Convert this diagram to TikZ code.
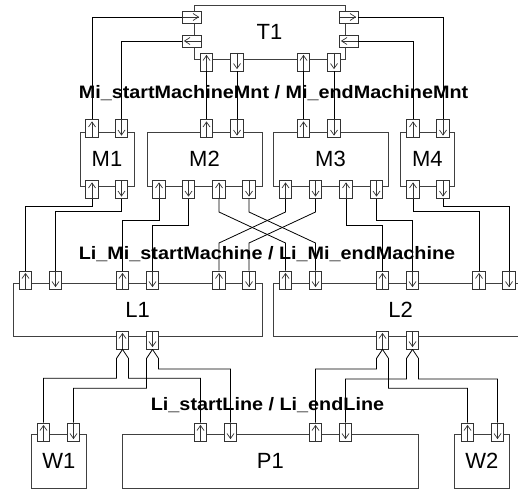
\documentclass[tikz,border=0pt]{standalone}
\usepackage{fontspec}
\setmainfont{Liberation Sans}
\newfontfamily\lblfont[FakeStretch=1.1]{Liberation Sans}
\newcommand\wireroute[3]{\draw[wire] (#1.south) |- (#2.north |- 0,#3) -- (#2.north);}
\begin{document}
\begin{tikzpicture}[x=1pt,y=-1pt,
  box/.style={draw=black!75, line width=0.9pt, rectangle, inner sep=0pt,
    font=\fontsize{22}{24}\selectfont},
  wire/.style={draw=black, line width=0.8pt},
  lbl/.style={font=\lblfont\bfseries\fontsize{18}{20}\selectfont, inner sep=0pt, anchor=base},
  port/.style={draw=black!80, fill=white, line width=0.8pt, rectangle, inner sep=0pt},
  pv/.style={port, minimum width=12.5pt, minimum height=18pt},
  ph/.style={port, minimum width=19pt, minimum height=12pt},
  pU/.style={pv, path picture={
    \draw[line width=0.7pt] (path picture bounding box.south) -- ([yshift=-2.5pt]path picture bounding box.north);
    \draw[line width=0.7pt] ([xshift=-3.5pt,yshift=-7.5pt]path picture bounding box.north) -- ([yshift=-2.5pt]path picture bounding box.north) -- ([xshift=3.5pt,yshift=-7.5pt]path picture bounding box.north);}},
  pD/.style={pv, path picture={
    \draw[line width=0.7pt] (path picture bounding box.north) -- ([yshift=2.5pt]path picture bounding box.south);
    \draw[line width=0.7pt] ([xshift=-3.5pt,yshift=7.5pt]path picture bounding box.south) -- ([yshift=2.5pt]path picture bounding box.south) -- ([xshift=3.5pt,yshift=7.5pt]path picture bounding box.south);}},
  pR/.style={ph, path picture={
    \draw[line width=0.7pt] (path picture bounding box.west) -- ([xshift=-2.5pt]path picture bounding box.east);
    \draw[line width=0.7pt] ([xshift=-8pt,yshift=3.5pt]path picture bounding box.east) -- ([xshift=-2.5pt]path picture bounding box.east) -- ([xshift=-8pt,yshift=-3.5pt]path picture bounding box.east);}},
  pL/.style={ph, path picture={
    \draw[line width=0.7pt] (path picture bounding box.east) -- ([xshift=2.5pt]path picture bounding box.west);
    \draw[line width=0.7pt] ([xshift=8pt,yshift=3.5pt]path picture bounding box.west) -- ([xshift=2.5pt]path picture bounding box.west) -- ([xshift=8pt,yshift=-3.5pt]path picture bounding box.west);}}
]
\useasboundingbox (0,0) rectangle (518,492);
\clip (0,0) rectangle (518,492);
\fill[white] (0,0) rectangle (518,492);

% boxes
\node[box, minimum width=151pt, minimum height=54pt] (T1) at (269.5,32) {T1};
\node[box, minimum width=54pt, minimum height=54pt] (M1) at (107,159) {M1};
\node[box, minimum width=115pt, minimum height=54pt] (M2) at (204.5,159) {M2};
\node[box, minimum width=115pt, minimum height=54pt] (M3) at (330.5,159) {M3};
\node[box, minimum width=53.3pt, minimum height=54pt] (M4) at (427.3,159) {M4};
\node[box, minimum width=248.7pt, minimum height=53.4pt] (L1) at (137.7,310) {L1};
\node[box, minimum width=254.7pt, minimum height=53.4pt] (L2) at (400.7,310) {L2};
\node[box, minimum width=54.3pt, minimum height=54pt] (W1) at (58.9,461.3) {W1};
\node[box, minimum width=296pt, minimum height=54pt] (P1) at (270.3,461.3) {P1};
\node[box, minimum width=55pt, minimum height=54pt] (W2) at (481.8,461.3) {W2};

% T1 ports
\node[pR] (t1lo) at (191.5,17) {};
\node[pL] (t1li) at (191.5,41) {};
\node[pR] (t1ro) at (348.5,17) {};
\node[pL] (t1ri) at (348.5,41) {};
\node[pU] (t1b1) at (206.5,62) {};
\node[pD] (t1b2) at (237,62) {};
\node[pU] (t1b3) at (303.5,62) {};
\node[pD] (t1b4) at (334,62) {};

% M top ports
\node[pU] (m1t1) at (92,128.5) {};
\node[pD] (m1t2) at (121.5,128.5) {};
\node[pU] (m2t1) at (206.5,128.5) {};
\node[pD] (m2t2) at (237,128.5) {};
\node[pU] (m3t1) at (303.5,128.5) {};
\node[pD] (m3t2) at (334,128.5) {};
\node[pU] (m4t1) at (413,128.5) {};
\node[pD] (m4t2) at (443,128.5) {};

% M bottom ports
\node[pU] (m1b1) at (92,189.5) {};
\node[pD] (m1b2) at (121.5,189.5) {};
\node[pU] (m2b1) at (159,189.5) {};
\node[pD] (m2b2) at (188.5,189.5) {};
\node[pU] (m2b3) at (219,189.5) {};
\node[pD] (m2b4) at (249,189.5) {};
\node[pU] (m3b1) at (285.5,189.5) {};
\node[pD] (m3b2) at (315.5,189.5) {};
\node[pU] (m3b3) at (346,189.5) {};
\node[pD] (m3b4) at (376.5,189.5) {};
\node[pU] (m4b1) at (413,189.5) {};
\node[pD] (m4b2) at (443,189.5) {};

% L top ports
\node[pU] (l1t1) at (25.5,280) {};
\node[pD] (l1t2) at (55.5,280) {};
\node[pU] (l1t3) at (122.5,280) {};
\node[pD] (l1t4) at (152.5,280) {};
\node[pU] (l1t5) at (219,280) {};
\node[pD] (l1t6) at (249,280) {};
\node[pU] (l2t1) at (285.5,280) {};
\node[pD] (l2t2) at (315.5,280) {};
\node[pU] (l2t3) at (382.5,280) {};
\node[pD] (l2t4) at (412.5,280) {};
\node[pU] (l2t5) at (479,280) {};
\node[pD] (l2t6) at (509,280) {};

% L bottom ports
\node[pU] (l1b1) at (122.5,340) {};
\node[pD] (l1b2) at (152.5,340) {};
\node[pU] (l2b1) at (382.5,340) {};
\node[pD] (l2b2) at (412.5,340) {};

% W/P ports
\node[pU] (w1t1) at (43.5,432) {};
\node[pD] (w1t2) at (73.5,432) {};
\node[pU] (p1t1) at (200.5,432) {};
\node[pD] (p1t2) at (230.5,432) {};
\node[pU] (p1t3) at (315.5,432) {};
\node[pD] (p1t4) at (345.5,432) {};
\node[pU] (w2t1) at (467.5,432) {};
\node[pD] (w2t2) at (497.5,432) {};

% T1 <-> M wires
\draw[wire] (t1lo.west) -| (m1t1.north);
\draw[wire] (t1li.west) -| (m1t2.north);
\draw[wire] (t1ro.east) -| (m4t2.north);
\draw[wire] (t1ri.east) -| (m4t1.north);
\draw[wire] (t1b1.south) -- (m2t1.north);
\draw[wire] (t1b2.south) -- (m2t2.north);
\draw[wire] (t1b3.south) -- (m3t1.north);
\draw[wire] (t1b4.south) -- (m3t2.north);

% M <-> L wires
\wireroute{m1b1}{l1t1}{206.7}
\wireroute{m1b2}{l1t2}{211.3}
\wireroute{m2b1}{l1t3}{220.7}
\wireroute{m2b2}{l1t4}{225}
\wireroute{m3b3}{l2t3}{225}
\wireroute{m3b4}{l2t4}{220.7}
\wireroute{m4b1}{l2t5}{211}
\wireroute{m4b2}{l2t6}{206}
\draw[wire] (m2b3.south) -- (m2b3.south |- 0,212) -- (l2t1.north |- 0,243) -- (l2t1.north);
\draw[wire] (m2b4.south) -- (m2b4.south |- 0,212) -- (l2t2.north |- 0,243) -- (l2t2.north);
\draw[wire] (m3b1.south) -- (m3b1.south |- 0,212) -- (l1t5.north |- 0,243) -- (l1t5.north);
\draw[wire] (m3b2.south) -- (m3b2.south |- 0,212) -- (l1t6.north |- 0,243) -- (l1t6.north);

% L <-> W/P wires
\draw[wire] (l1b1.south) -- ++(-6,9) |- (w1t1.north |- 0,378.3) -- (w1t1.north);
\draw[wire] (l1b1.south) -- ++(6,9) |- (p1t1.north |- 0,378.3) -- (p1t1.north);
\draw[wire] (l1b2.south) -- ++(-6,9) |- (w1t2.north |- 0,388.3) -- (w1t2.north);
\draw[wire] (l1b2.south) -- ++(6,9) |- (p1t2.north |- 0,369) -- (p1t2.north);
\draw[wire] (l2b1.south) -- ++(-6,9) |- (p1t3.north |- 0,369) -- (p1t3.north);
\draw[wire] (l2b1.south) -- ++(6,9) |- (w2t1.north |- 0,388.3) -- (w2t1.north);
\draw[wire] (l2b2.south) -- ++(-6,9) |- (p1t4.north |- 0,379) -- (p1t4.north);
\draw[wire] (l2b2.south) -- ++(6,9) |- (w2t2.north |- 0,379) -- (w2t2.north);

% labels
\node[lbl] (lab1) at (273.5,98.5) {Mi\_startMachineMnt / Mi\_endMachineMnt};
\node[lbl] (lab2) at (267,259) {Li\_Mi\_startMachine / Li\_Mi\_endMachine};
\node[lbl] (lab3) at (267.5,410) {Li\_startLine / Li\_endLine};
\end{tikzpicture}
\end{document}
